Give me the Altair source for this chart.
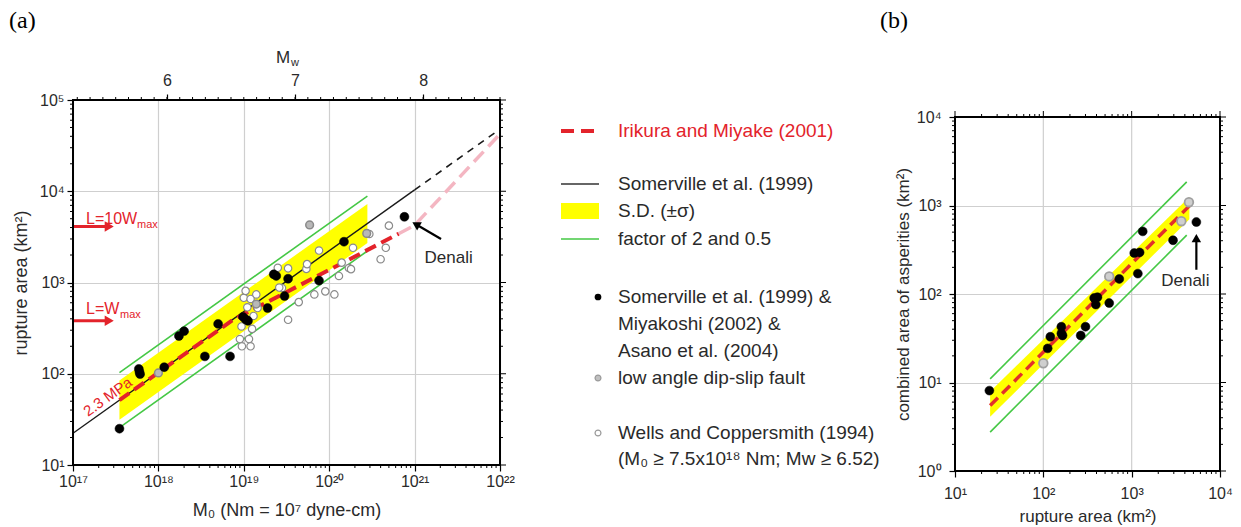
import altair as alt
import pandas as pd

FONT = "Liberation Sans"
SERIF = "Liberation Serif"
INK = "#2a2a2a"
RED = "#e3232b"
PINK = "#f4b6c2"
GREEN = "#45c845"
YELLOW = "#ffff00"
GRID = "#cfcfcf"

# plot-area sizes (px); panel (b) frame starts TOP_B px below the panel's top
WA, HA = 427, 365
WB, HB = 265, 371
TOP_B = 17

# ---------------- (a) rupture area S (km^2) vs seismic moment M0 (Nm) ----------------
# Somerville et al. (1999) & Miyakoshi (2002) & Asano et al. (2004)
a_black_m0 = [3.5e17, 5.9e17, 6.0e17, 6.1e17, 1.17e18, 1.74e18, 2.0e18, 3.5e18, 5.0e18,
              6.9e18, 9.8e18, 1.05e19, 1.12e19, 1.9e19, 2.24e19, 2.4e19, 3.0e19, 3.3e19,
              7.6e19, 1.49e20, 7.6e20]
a_black_s = [25, 113, 105, 99, 118, 259, 293, 155, 352,
             155, 420, 395, 380, 525, 1230, 1180, 710, 1100,
             1050, 2800, 5250]
# low angle dip-slip faults
a_gray_m0 = [1.0e18, 1.4e19, 5.9e19, 2.75e20]
a_gray_s = [102, 580, 4270, 3450]
# Wells and Coppersmith (1994)
a_white_m0 = [9.0e18, 1.15e19, 9.5e18, 1.2e19, 9.4e18, 1.0e19, 1.4e19, 1.45e19, 1.3e19,
              1.05e19, 1.2e19, 1.1e19, 1.25e19, 1.1e19,
              2.5e19, 2.8e19, 2.6e19, 3.3e19, 3.3e19, 4.4e19, 5.4e19, 5.5e19, 6.7e19,
              7.6e19, 9.0e19,
              1.15e20, 1.3e20, 1.4e20, 1.7e20, 1.8e20, 1.9e20, 2.95e20, 4.0e20, 4.6e20, 5.0e20]
a_white_s = [240, 240, 200, 200, 330, 680, 740, 525, 430,
             810, 660, 535, 310, 385,
             1450, 870, 880, 390, 1430, 610, 1410, 1590, 740,
             2240, 800,
             740, 1180, 1650, 1440, 1400, 2400, 3400, 1800, 2400, 4200]

# scaling relations: end points of straight log-log segments
a_somer_m0, a_somer_s = [1e17, 1e21], [22.3, 10350]
a_somer_ext_m0, a_somer_ext_s = [1e21, 1e22], [10350, 48000]
a_iri_m0, a_iri_s = [3.5e17, 7.5e18, 6.5e20], [51.5, 390, 3420]
a_iri_ext_m0, a_iri_ext_s = [6.5e20, 1e21, 1e22], [3420, 4240, 42400]
a_band_m0, a_band_lo, a_band_hi = [3.5e17, 2.8e20], [31.4, 2702], [84.5, 7267]
a_fac2_s, a_fac05_s = [103, 8862], [25.7, 2215]

# ---------------- (b) combined asperity area vs rupture area (km^2) ----------------
b_black_s = [24.5, 112, 120, 160, 160, 165, 265, 300, 376, 393, 410, 557, 724,
             1070, 1230, 1175, 1334, 2940, 5400]
b_black_sa = [8.1, 24.3, 32.9, 42.7, 35.8, 34, 34, 42.7, 90, 76, 92, 79, 148,
              290, 295, 170, 510, 405, 650]
b_gray_s = [100, 557, 3650, 4450]
b_gray_sa = [16.5, 158, 665, 1090]
b_ratio_s, b_ratio_sa = [25, 4500], [5.5, 990]
b_fac_s, b_fac2_sa, b_fac05_sa = [25, 4200], [11, 1848], [2.75, 462]
b_band_s, b_band_lo, b_band_hi = [25, 4500], [4.1, 700], [7.9, 1250]

# axis decades and moment-magnitude ticks
A_X_EXP = [17, 18, 19, 20, 21, 22]
A_Y_EXP = [1, 2, 3, 4, 5]
B_X_EXP = [1, 2, 3, 4]
B_Y_EXP = [0, 1, 2, 3, 4]
MW_DOMAIN = [5.2667, 8.6]          # Mw of 1e17 and 1e22 Nm
MW_MAJOR = [6, 7, 8]
MW_MINOR = [round(5.3 + 0.1 * i, 1) for i in range(34)]

SUP = str.maketrans("0123456789", "⁰¹²³⁴⁵⁶⁷⁸⁹")
ONE = pd.DataFrame({"k": [0]})


def minors(exps):
    return [m * 10.0 ** e for e in exps[:-1] for m in range(2, 10)]


def majors(exps):
    return [10.0 ** e for e in exps]


def pow10_expr(exps):
    expr = f"'10{str(exps[-1]).translate(SUP)}'"
    for e in reversed(exps[:-1]):
        expr = f"round(log(datum.value) / LN10) == {e} ? '10{str(e).translate(SUP)}' : ({expr})"
    return expr


def log_axis(exps, title, label_pad, title_pad, title_size=18, grid=True):
    return alt.Axis(values=majors(exps), labelExpr=pow10_expr(exps), title=title,
                    grid=grid, gridColor=GRID, gridWidth=1.2, domain=False,
                    tickSize=6, tickWidth=1.2, tickColor="black",
                    labelFont=FONT, labelFontSize=16, labelColor=INK,
                    labelPadding=label_pad, labelOverlap=False, labelFlush=False,
                    titleFont=FONT, titleFontSize=title_size, titleFontWeight="normal",
                    titleColor=INK, titlePadding=title_pad)


class Frame:
    """Scales and axes shared by every layer of one panel."""

    def __init__(self, xs, ys, xa, ya):
        self.xs, self.ys, self.xa, self.ya = xs, ys, xa, ya

    def X(self, f="x"):
        return alt.X(f"{f}:Q", scale=self.xs, axis=self.xa)

    def Y(self, f="y"):
        return alt.Y(f"{f}:Q", scale=self.ys, axis=self.ya)

    def xy(self):
        return dict(x=self.X(), y=self.Y())


def line(xv, yv, P, color, width, dash=None):
    kw = dict(color=color, strokeWidth=width)
    if dash:
        kw["strokeDash"] = dash
    return alt.Chart(pd.DataFrame({"x": xv, "y": yv})).mark_line(**kw).encode(**P.xy())


def band(xv, lo, hi, P):
    return alt.Chart(pd.DataFrame({"x": xv, "lo": lo, "hi": hi})).mark_area(
        color=YELLOW, opacity=1).encode(x=P.X(), y=P.Y("hi"), y2="lo:Q")


def dots(xv, yv, P, size, fill, stroke, sw):
    return alt.Chart(pd.DataFrame({"x": xv, "y": yv})).mark_point(
        shape="circle", filled=True, size=size, fill=fill, stroke=stroke,
        strokeWidth=sw, opacity=1, fillOpacity=1, strokeOpacity=1).encode(**P.xy())


def arrow(x0, y0, x1, y1, P, color, width, head, angle):
    shaft = alt.Chart(pd.DataFrame({"x": [x0], "y": [y0], "x2": [x1], "y2": [y1]})).mark_rule(
        color=color, strokeWidth=width).encode(x=P.X(), x2="x2:Q", y=P.Y(), y2="y2:Q")
    tip = alt.Chart(pd.DataFrame({"x": [x1], "y": [y1]})).mark_point(
        shape="triangle", filled=True, size=head, angle=angle, color=color,
        opacity=1).encode(**P.xy())
    return [shaft, tip]


def dtext(txt, x, y, P, size, color, **kw):
    return alt.Chart(pd.DataFrame({"x": [x], "y": [y]})).mark_text(
        text=txt, font=FONT, fontSize=size, color=color, **kw).encode(**P.xy())


def ptext(txt, x, y, size, color=INK, font=FONT, align="left", baseline="middle"):
    return alt.Chart(ONE).mark_text(text=txt, font=font, fontSize=size, color=color,
                                    align=align, baseline=baseline).encode(
        x=alt.value(x), y=alt.value(y))


def xrules(vals, P, y0, y1, color="black", width=1):
    return alt.Chart(pd.DataFrame({"x": vals})).mark_rule(color=color, strokeWidth=width).encode(
        x=P.X(), y=alt.value(y0), y2=alt.value(y1))


def yrules(vals, P, x0, x1, color="black", width=1):
    return alt.Chart(pd.DataFrame({"y": vals})).mark_rule(color=color, strokeWidth=width).encode(
        y=P.Y(), x=alt.value(x0), x2=alt.value(x1))


def box(w, top, bottom):
    kw = dict(color="black", strokeWidth=2, strokeCap="square")
    return [
        alt.Chart(ONE).mark_rule(**kw).encode(x=alt.value(0), x2=alt.value(w), y=alt.value(top)),
        alt.Chart(ONE).mark_rule(**kw).encode(x=alt.value(0), x2=alt.value(w), y=alt.value(bottom)),
        alt.Chart(ONE).mark_rule(**kw).encode(x=alt.value(0), y=alt.value(top), y2=alt.value(bottom)),
        alt.Chart(ONE).mark_rule(**kw).encode(x=alt.value(w), y=alt.value(top), y2=alt.value(bottom)),
    ]


# ======================= panel (a) =======================
PA = Frame(alt.Scale(type="log", domain=[1e17, 1e22], nice=False),
           alt.Scale(type="log", domain=[10, 1e5], nice=False),
           log_axis(A_X_EXP, "M₀ (Nm = 10⁷ dyne-cm)", 2, 12),
           log_axis(A_Y_EXP, "rupture area (km²)", 3, 9))

layers_a = [band(a_band_m0, a_band_lo, a_band_hi, PA),
            line(a_band_m0, a_fac2_s, PA, GREEN, 1.6),
            line(a_band_m0, a_fac05_s, PA, GREEN, 1.6),
            line(a_somer_m0, a_somer_s, PA, "#1a1a1a", 1.4),
            line(a_somer_ext_m0, a_somer_ext_s, PA, "#1a1a1a", 1.6, [7, 6]),
            line(a_iri_ext_m0, a_iri_ext_s, PA, PINK, 3.5, [14, 7]),
            line(a_iri_m0, a_iri_s, PA, RED, 4, [12, 6]),
            dots(a_white_m0, a_white_s, PA, 55, "white", "#8a8a8a", 1.2),
            dots(a_gray_m0, a_gray_s, PA, 60, "#b8b8b8", "#8a8a8a", 1.5),
            dots(a_black_m0, a_black_s, PA, 80, "black", "black", 0.5)]

# stress-drop label along the Irikura line
layers_a.append(dtext("2.3 MPa", 2.55e17, 56, PA, 15, RED, angle=324.5,
                      align="center", baseline="middle"))
# aspect-ratio arrows at the left edge
layers_a += arrow(1e17, 4100, 2.55e17, 4100, PA, RED, 3, 110, 90)
layers_a += arrow(1e17, 380, 2.55e17, 380, PA, RED, 3, 110, 90)
layers_a.append(dtext("L=10W", 1.42e17, 5000, PA, 16, RED, align="left", baseline="middle"))
layers_a.append(dtext("max", 1.42e17, 5000, PA, 11, RED, align="left", baseline="middle",
                      dx=51, dy=6))
layers_a.append(dtext("L=W", 1.42e17, 515, PA, 16, RED, align="left", baseline="middle"))
layers_a.append(dtext("max", 1.42e17, 515, PA, 11, RED, align="left", baseline="middle",
                      dx=34, dy=6))
# Denali event
layers_a += arrow(2.04e21, 3000, 1.07e21, 4270, PA, "black", 2.2, 90, 300)
layers_a.append(dtext("Denali", 2.5e21, 1860, PA, 17, INK, align="center", baseline="middle"))

# minor ticks: bottom, left; all ticks on the right side; frame
layers_a += [xrules(minors(A_X_EXP), PA, HA, HA + 3),
             yrules(minors(A_Y_EXP), PA, 0, -3),
             yrules(majors(A_Y_EXP), PA, WA, WA + 6),
             yrules(minors(A_Y_EXP), PA, WA, WA + 3)]
layers_a += box(WA, 0, HA)

# legend to the right of the frame
LX = 488
layers_a += [
    alt.Chart(ONE).mark_rule(color=RED, strokeWidth=4, strokeDash=[13, 7]).encode(
        x=alt.value(LX), x2=alt.value(LX + 38), y=alt.value(31)),
    ptext("Irikura and Miyake (2001)", LX + 57, 31, 19, RED),
    alt.Chart(ONE).mark_rule(color="#333", strokeWidth=1.4).encode(
        x=alt.value(LX), x2=alt.value(LX + 38), y=alt.value(84)),
    ptext("Somerville et al. (1999)", LX + 57, 84, 19),
    alt.Chart(ONE).mark_rect(color=YELLOW).encode(
        x=alt.value(LX), x2=alt.value(LX + 38), y=alt.value(103), y2=alt.value(119)),
    ptext("S.D. (±σ)", LX + 57, 111, 19),
    alt.Chart(ONE).mark_rule(color=GREEN, strokeWidth=1.6).encode(
        x=alt.value(LX), x2=alt.value(LX + 38), y=alt.value(139)),
    ptext("factor of 2 and 0.5", LX + 57, 139, 19),
    alt.Chart(ONE).mark_point(shape="circle", filled=True, size=45, color="black", opacity=1).encode(
        x=alt.value(LX + 37), y=alt.value(197)),
    ptext("Somerville et al. (1999) &", LX + 57, 197, 19),
    ptext("Miyakoshi (2002) &", LX + 57, 224, 19),
    ptext("Asano et al. (2004)", LX + 57, 251, 19),
    alt.Chart(ONE).mark_point(shape="circle", filled=True, size=35, fill="#c0c0c0",
                              stroke="#9a9a9a", strokeWidth=1.2, opacity=1).encode(
        x=alt.value(LX + 37), y=alt.value(278)),
    ptext("low angle dip-slip fault", LX + 57, 278, 19),
    alt.Chart(ONE).mark_point(shape="circle", filled=True, size=35, fill="white",
                              stroke="#9a9a9a", strokeWidth=1.2, opacity=1).encode(
        x=alt.value(LX + 37), y=alt.value(333)),
    ptext("Wells and Coppersmith (1994)", LX + 57, 333, 19),
    ptext("(M₀ ≥ 7.5x10¹⁸ Nm; Mw ≥ 6.52)", LX + 57, 359, 19),
]

# panel tag and magnitude axis title
layers_a += [ptext("(a)", -64, -91, 24, "black", SERIF, baseline="top"),
             ptext("M", 203, -42, 17, INK),
             ptext("w", 218, -37, 11, INK)]

mw_axis = alt.Chart(pd.DataFrame({"mw": MW_MINOR})).mark_rule(color="black", strokeWidth=1).encode(
    x=alt.X("mw:Q", scale=alt.Scale(domain=MW_DOMAIN, nice=False, zero=False),
            axis=alt.Axis(orient="top", values=MW_MAJOR, title=None, grid=False, domain=False,
                          tickSize=6, tickWidth=1.2, tickColor="black", labelFont=FONT,
                          labelFontSize=16, labelColor=INK, labelPadding=6, format="d")),
    y=alt.value(0), y2=alt.value(-3))

panel_a = alt.layer(alt.layer(*layers_a), mw_axis).resolve_scale(x="independent").properties(
    width=WA, height=HA)

# ======================= panel (b) =======================
PB = Frame(alt.Scale(type="log", domain=[10, 1e4], nice=False),
           alt.Scale(type="log", domain=[1, 1e4], nice=False, range=[HB, TOP_B]),
           log_axis(B_X_EXP, "rupture area (km²)", 8, 7, 17, grid=False),
           log_axis(B_Y_EXP, "combined area of asperities (km²)", 8, 4, 17))

layers_b = [xrules(majors(B_X_EXP), PB, TOP_B, HB, GRID, 1.2),
            band(b_band_s, b_band_lo, b_band_hi, PB),
            line(b_fac_s, b_fac2_sa, PB, GREEN, 1.6),
            line(b_fac_s, b_fac05_sa, PB, GREEN, 1.6),
            line(b_ratio_s, b_ratio_sa, PB, "#e3302a", 3.5, [11, 6]),
            dots(b_gray_s, b_gray_sa, PB, 75, "#cfcfcf", "#a0a0a0", 1.8),
            dots(b_black_s, b_black_sa, PB, 80, "black", "black", 0.5)]
layers_b += arrow(5400, 188, 5400, 412, PB, "black", 2.2, 90, 0)
layers_b.append(dtext("Denali", 4050, 139, PB, 17, INK, align="center", baseline="middle"))
layers_b += [xrules(minors(B_X_EXP), PB, HB, HB + 3),
             xrules(majors(B_X_EXP), PB, TOP_B, TOP_B - 6),
             xrules(minors(B_X_EXP), PB, TOP_B, TOP_B - 3),
             yrules(minors(B_Y_EXP), PB, 0, -3),
             yrules(majors(B_Y_EXP), PB, WB, WB + 6),
             yrules(minors(B_Y_EXP), PB, WB, WB + 3),
             ptext("(b)", -75, -91, 24, "black", SERIF, baseline="top")]
layers_b += box(WB, TOP_B, HB)

panel_b = alt.layer(*layers_b).properties(width=WB, height=HB)

chart = alt.hconcat(panel_a, panel_b, spacing=-2).properties(
    padding={"left": 8, "top": 8, "right": 0, "bottom": 0}
).configure_view(stroke="transparent")

chart.save("out.html", embed_options={"renderer": "svg", "actions": False})
